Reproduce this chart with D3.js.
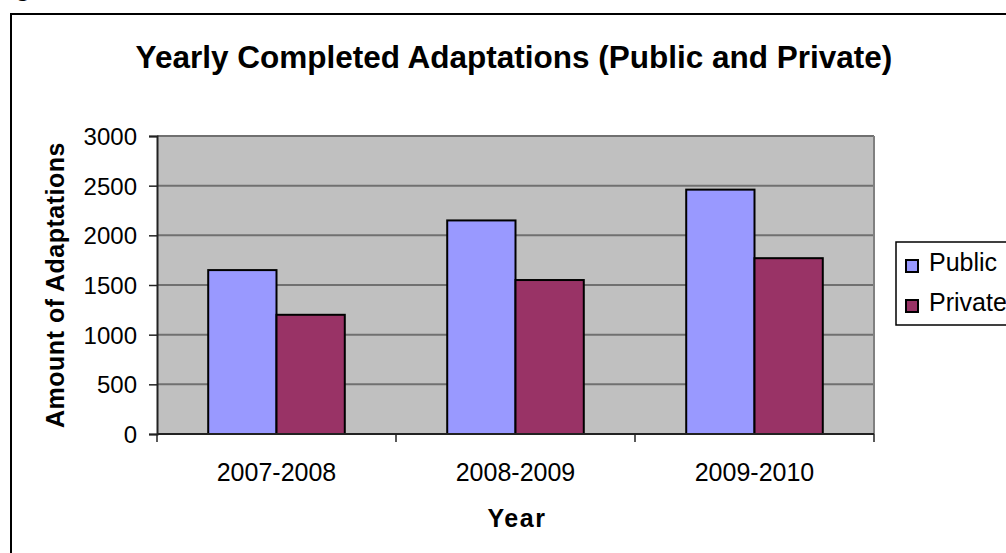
<!DOCTYPE html>
<html>
<head>
<meta charset="utf-8">
<title>Yearly Completed Adaptations</title>
<script src="https://cdn.jsdelivr.net/npm/d3@7"></script>
<style>
  body { margin: 0; background: #fff; }
  text { font-family: "Liberation Sans", Arial, sans-serif; fill: #000; }
</style>
</head>
<body>
<div id="chart"></div>
<script>
// data
var years = ["2007-2008", "2008-2009", "2009-2010"];
var series = ["Public", "Private"];
var publicVals = [1650, 2150, 2460];
var privateVals = [1200, 1550, 1770];
var yTicks = [0, 500, 1000, 1500, 2000, 2500, 3000];
var colors = ["#9999FF", "#993366"];

var W = 1006, H = 553;
var plot = {left: 157, top: 136, right: 874, bottom: 434};

var svg = d3.select("#chart").append("svg")
  .attr("width", W).attr("height", H);

// stray glyph of text above the frame (cut off in the source too)
svg.append("text").attr("x", 15).attr("y", -4)
  .style("font-size", "26px").style("font-weight", "bold").text("g");

// outer frame, runs past the window on right and bottom
svg.append("rect").attr("x", 11).attr("y", 14)
  .attr("width", 1100).attr("height", 600)
  .attr("fill", "#fff").attr("stroke", "#000").attr("stroke-width", 2);

var x0 = d3.scaleBand().domain(years).range([plot.left, plot.right]);
// excel gap width 150% -> two bars take 2/3.5 of the band
var x1 = d3.scaleBand().domain(series)
  .range([0, x0.bandwidth() * 2 / 3.5]);
var y = d3.scaleLinear().domain([0, 3000]).range([plot.bottom, plot.top]);

// plot background
svg.append("rect")
  .attr("x", plot.left).attr("y", plot.top)
  .attr("width", plot.right - plot.left).attr("height", plot.bottom - plot.top)
  .attr("fill", "#C0C0C0");

// gridlines
svg.append("g").selectAll("line").data(yTicks.slice(1)).enter().append("line")
  .attr("x1", plot.left).attr("x2", plot.right)
  .attr("y1", function(d) { return y(d); }).attr("y2", function(d) { return y(d); })
  .attr("stroke", "#707070").attr("stroke-width", 2);
svg.append("line")
  .attr("x1", plot.right).attr("x2", plot.right)
  .attr("y1", plot.top).attr("y2", plot.bottom)
  .attr("stroke", "#808080").attr("stroke-width", 2);

// bars
var rows = years.map(function(yr, i) {
  return {year: yr, vals: [publicVals[i], privateVals[i]]};
});
var pad = (x0.bandwidth() - x1.range()[1]) / 2;
var grp = svg.append("g").selectAll("g").data(rows).enter().append("g")
  .attr("transform", function(d) { return "translate(" + (x0(d.year) + pad) + ",0)"; });
grp.selectAll("rect").data(function(d) {
    return d.vals.map(function(v, k) { return {s: series[k], v: v, k: k}; });
  }).enter().append("rect")
  .attr("x", function(d) { return x1(d.s); })
  .attr("y", function(d) { return y(d.v); })
  .attr("width", x1.bandwidth())
  .attr("height", function(d) { return plot.bottom - y(d.v); })
  .attr("fill", function(d) { return colors[d.k]; })
  .attr("stroke", "#000").attr("stroke-width", 2);

// y axis
var yAxis = d3.axisLeft(y).tickValues(yTicks).tickSize(8).tickPadding(12)
  .tickFormat(d3.format("d"));
var gy = svg.append("g").attr("transform", "translate(" + plot.left + ",0)").call(yAxis);
gy.select(".domain").attr("stroke", "#222").attr("stroke-width", 2);
gy.selectAll(".tick line").attr("stroke", "#222").attr("stroke-width", 1.5);
gy.selectAll(".tick text").style("font-size", "24px")
  .style("font-family", "'Liberation Sans', Arial, sans-serif").attr("dy", "0.35em");

// x axis with ticks at category boundaries
var gx = svg.append("g").attr("transform", "translate(0," + plot.bottom + ")");
gx.append("line").attr("x1", plot.left).attr("x2", plot.right)
  .attr("stroke", "#222").attr("stroke-width", 2);
var bounds = years.map(function(d) { return x0(d); }).concat([plot.right]);
gx.selectAll(".bt").data(bounds).enter().append("line")
  .attr("x1", function(d) { return d; }).attr("x2", function(d) { return d; })
  .attr("y1", 0).attr("y2", 8)
  .attr("stroke", "#222").attr("stroke-width", 1.5);
gx.selectAll(".lbl").data(years).enter().append("text")
  .attr("x", function(d) { return x0(d) + x0.bandwidth() / 2; })
  .attr("y", 47).attr("text-anchor", "middle")
  .style("font-size", "25px").text(function(d) { return d; });

// titles
svg.append("text").attr("x", 514).attr("y", 68).attr("text-anchor", "middle")
  .style("font-size", "31.5px").style("font-weight", "bold")
  .text("Yearly Completed Adaptations (Public and Private)");
svg.append("text").attr("x", 517).attr("y", 527).attr("text-anchor", "middle")
  .style("font-size", "25px").style("font-weight", "bold").style("letter-spacing", "1.5px")
  .text("Year");
svg.append("text")
  .attr("transform", "translate(64," + ((plot.top + plot.bottom) / 2) + ") rotate(-90)")
  .attr("text-anchor", "middle")
  .style("font-size", "25px").style("font-weight", "bold").style("letter-spacing", "0.5px")
  .text("Amount of Adaptations");

// legend
var lg = svg.append("g").attr("transform", "translate(896,242)");
lg.append("rect").attr("width", 140).attr("height", 83)
  .attr("fill", "#fff").attr("stroke", "#000").attr("stroke-width", 1.5);
var li = lg.selectAll(".li").data(series).enter().append("g")
  .attr("transform", function(d, i) { return "translate(0," + (i * 40) + ")"; });
li.append("rect").attr("x", 10).attr("y", 18).attr("width", 12).attr("height", 12)
  .attr("fill", function(d, i) { return colors[i]; })
  .attr("stroke", "#000").attr("stroke-width", 2);
li.append("text").attr("x", 33).attr("y", 29)
  .style("font-size", "25px").text(function(d) { return d; });
</script>
</body>
</html>
